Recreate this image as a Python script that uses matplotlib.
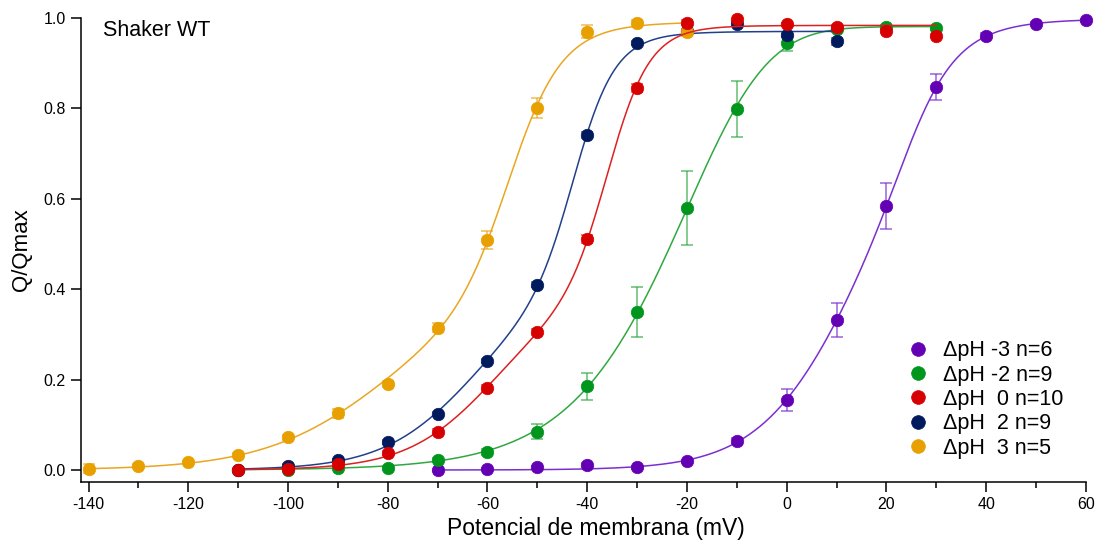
import numpy as np
import matplotlib
matplotlib.use("Agg")
import matplotlib.pyplot as plt
from matplotlib.ticker import MultipleLocator, FormatStrFormatter

plt.rcParams['font.family'] = ['Liberation Sans', 'DejaVu Sans']
plt.rcParams['axes.unicode_minus'] = False

# ---------------- data ----------------
labels = ["ΔpH -3 n=6", "ΔpH -2 n=9", "ΔpH  0 n=10", "ΔpH  2 n=9", "ΔpH  3 n=5"]

v_m3 = [-70, -60, -50, -40, -30, -20, -10, 0, 10, 20, 30, 40, 50, 60]
q_m3 = [0.0, 0.002, 0.006, 0.012, 0.006, 0.019, 0.064, 0.155, 0.332, 0.584, 0.847, 0.961, 0.987, 0.995]
e_m3 = [0.002, 0.002, 0.003, 0.004, 0.003, 0.004, 0.006, 0.025, 0.037, 0.05, 0.028, 0.006, 0.004, 0.003]

v_m2 = [-110, -100, -90, -80, -70, -60, -50, -40, -30, -20, -10, 0, 10, 20, 30]
q_m2 = [0.0, 0.0, 0.004, 0.004, 0.022, 0.04, 0.085, 0.185, 0.349, 0.58, 0.798, 0.944, 0.975, 0.98, 0.978]
e_m2 = [0.002, 0.002, 0.002, 0.003, 0.004, 0.006, 0.016, 0.03, 0.055, 0.082, 0.062, 0.018, 0.005, 0.004, 0.004]

v_0 = [-110, -100, -90, -80, -70, -60, -50, -40, -30, -20, -10, 0, 10, 20, 30]
q_0 = [0.0, 0.003, 0.013, 0.037, 0.085, 0.181, 0.305, 0.511, 0.845, 0.99, 0.998, 0.986, 0.98, 0.972, 0.961]
e_0 = [0.002, 0.002, 0.003, 0.004, 0.005, 0.006, 0.006, 0.009, 0.009, 0.005, 0.004, 0.004, 0.004, 0.004, 0.004]

v_2 = [-110, -100, -90, -80, -70, -60, -50, -40, -30, -20, -10, 0, 10]
q_2 = [0.0, 0.01, 0.022, 0.062, 0.124, 0.241, 0.41, 0.741, 0.945, 0.972, 0.986, 0.962, 0.948]
e_2 = [0.002, 0.003, 0.003, 0.004, 0.005, 0.005, 0.006, 0.006, 0.005, 0.004, 0.004, 0.005, 0.007]

v_3 = [-140, -130, -120, -110, -100, -90, -80, -70, -60, -50, -40, -30, -20]
q_3 = [0.003, 0.009, 0.017, 0.033, 0.072, 0.126, 0.19, 0.315, 0.509, 0.8, 0.97, 0.99, 0.968]
e_3 = [0.01, 0.004, 0.004, 0.005, 0.006, 0.01, 0.007, 0.01, 0.02, 0.022, 0.014, 0.006, 0.008]

marker_colors = ["#6400b4", "#00961e", "#d70000", "#001a5e", "#e8a000"]
line_colors = ["#7a30d0", "#30a840", "#dd2020", "#22408a", "#eaa620"]
zorders = [3, 4, 7, 5, 6]

series = [(v_m3, q_m3, e_m3), (v_m2, q_m2, e_m2), (v_0, q_0, e_0),
          (v_2, q_2, e_2), (v_3, q_3, e_3)]


# ---------------- fits ----------------
def boltz(v, vh, k):
    return 1.0 / (1.0 + np.exp(-(v - vh) / k))


def model_a(p, v):
    vh, lk, ln_, qm = p
    return qm * (1.0 - (1.0 - boltz(v, vh, np.exp(lk))) ** np.exp(ln_))


def model_b(p, v):
    v1, lk1, a1, v2, lk2, a2 = p
    return a1 * boltz(v, v1, np.exp(lk1)) + a2 * boltz(v, v2, np.exp(lk2))


def lm(model, p, v, q, iters=600):
    p = np.array(p, float)
    lam = 1e-2
    r = q - model(p, v)
    cost = (r ** 2).sum()
    m = p.size
    for _ in range(iters):
        J = np.empty((v.size, m))
        for i in range(m):
            dp = np.zeros(m)
            dp[i] = 1e-6 * max(1.0, abs(p[i]))
            J[:, i] = (model(p + dp, v) - model(p - dp, v)) / (2 * dp[i])
        A = J.T @ J
        g = J.T @ r
        try:
            step = np.linalg.solve(A + lam * np.diag(np.diag(A) + 1e-12), g)
        except np.linalg.LinAlgError:
            lam *= 5
            continue
        pn = p + step
        rn = q - model(pn, v)
        cn = (rn ** 2).sum()
        if np.isfinite(cn) and cn < cost:
            p, r, cost = pn, rn, cn
            lam *= 0.3
        else:
            lam *= 5
        if lam > 1e9:
            break
    return p, cost


def fit(v, q):
    v = np.asarray(v, float)
    q = np.asarray(q, float)
    im = np.argmax(q) + 1
    vh0 = np.interp(0.5, q[:im], v[:im])
    best = None
    for n0 in (1.0, 2.0, 3.0):
        p, c = lm(model_a, [vh0 - 5, np.log(10.0), np.log(n0), q.max()], v, q)
        if best is None or c < best[2]:
            best = (model_a, p, c)
    for f1 in (0.2, 0.35, 0.5):
        p0 = [vh0 - 15, np.log(12.0), f1 * q.max(), vh0 + 3, np.log(5.0), (1 - f1) * q.max()]
        p, c = lm(model_b, p0, v, q)
        if p[2] > 0 and p[5] > 0 and c < best[2]:
            best = (model_b, p, c)
    return best[0], best[1]


# ---------------- figure ----------------
fig = plt.figure(figsize=(10.98, 5.42), dpi=100)
ax = fig.add_axes([0.0738, 0.1107, 0.9152, 0.8561])

for (v, q, e), mc, lc, z, lab in zip(series, marker_colors, line_colors, zorders, labels):
    mdl, p = fit(v, q)
    xs = np.linspace(min(v), max(v), 500)
    ax.plot(xs, mdl(p, xs), color=lc, lw=1.1, zorder=z)
    ax.errorbar(v, q, yerr=e, fmt='none', ecolor=lc, elinewidth=1.1,
                capsize=4.5, capthick=1.1, alpha=0.75, zorder=z + 0.1)
    ax.plot(v, q, 'o', color=mc, ms=9, mec=mc, mew=0.5, zorder=z + 0.2,
            clip_on=False, label=lab, linestyle='none')

ax.set_xlim(-141.5, 60)
ax.set_ylim(-0.0265, 1.0)
ax.xaxis.set_major_locator(MultipleLocator(20))
ax.xaxis.set_minor_locator(MultipleLocator(10))
ax.yaxis.set_major_locator(MultipleLocator(0.2))
ax.yaxis.set_major_formatter(FormatStrFormatter('%.1f'))

for s in ['top', 'right']:
    ax.spines[s].set_visible(False)
for s in ['left', 'bottom']:
    ax.spines[s].set_linewidth(1.1)

ax.tick_params(axis='both', which='major', direction='out', length=7, width=1.1,
               labelsize=11.5, colors='black', pad=4)
ax.tick_params(axis='x', which='minor', direction='out', length=4, width=1.1)

ax.set_xlabel("Potencial de membrana (mV)", fontsize=16.5, labelpad=2)
ax.xaxis.set_label_coords(0.512, -0.075)
ax.set_ylabel("Q/Qmax", fontsize=16, labelpad=8)

ax.text(0.022, 0.995, "Shaker WT", transform=ax.transAxes, fontsize=15.5,
        va='top', ha='left')

leg = ax.legend(loc='lower right', bbox_to_anchor=(0.99, 0.022), frameon=False,
                fontsize=15.5, handletextpad=0.55, labelspacing=0.16,
                markerscale=1.1, handlelength=1.2, borderaxespad=0.2)

fig.savefig("out.png", dpi=100)
